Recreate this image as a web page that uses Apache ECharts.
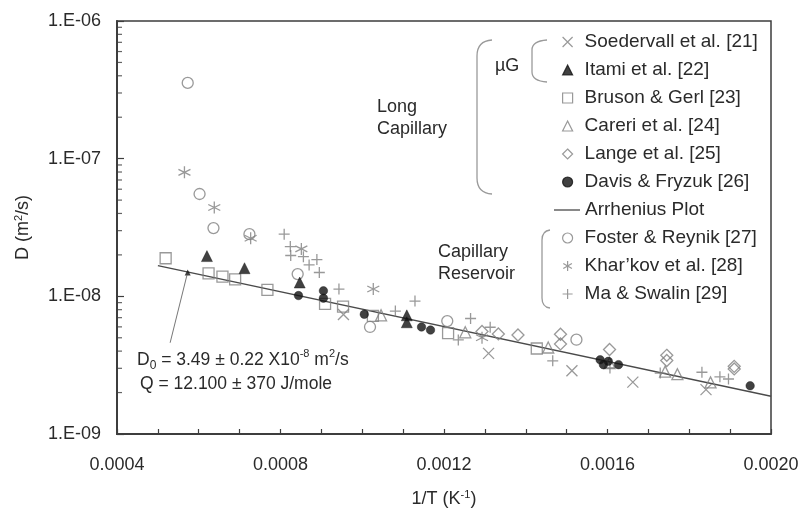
<!DOCTYPE html>
<html>
<head>
<meta charset="utf-8">
<script src="https://cdn.jsdelivr.net/npm/echarts@6/dist/echarts.min.js"></script>
<style>
  html, body { margin: 0; padding: 0; background: #fff; }
  #chart { width: 801px; height: 508px; }
</style>
</head>
<body>
<div id="chart"></div>
<script>
// values: [1/T (K^-1), D (m^2/s)]
const soedervall = [[0.000954, 7.38e-9], [0.001309, 3.85e-9], [0.001513, 2.88e-9], [0.001662, 2.38e-9], [0.001841, 2.10e-9]];
const itami = [[0.000620, 1.96e-8], [0.000712, 1.60e-8], [0.000847, 1.26e-8], [0.001109, 7.28e-9], [0.001109, 6.48e-9]];
const bruson = [[0.000519, 1.89e-8], [0.000624, 1.47e-8], [0.000658, 1.39e-8], [0.000689, 1.33e-8], [0.000768, 1.115e-8],
  [0.000909, 8.82e-9], [0.000953, 8.43e-9], [0.001026, 7.22e-9], [0.001210, 5.41e-9], [0.001427, 4.18e-9]];
const careri = [[0.001046, 7.28e-9], [0.001252, 5.48e-9], [0.001455, 4.25e-9], [0.001605, 3.28e-9], [0.001741, 2.84e-9],
  [0.001771, 2.72e-9], [0.001852, 2.37e-9]];
const lange = [[0.001293, 5.56e-9], [0.001333, 5.33e-9], [0.001381, 5.24e-9], [0.001485, 5.30e-9], [0.001485, 4.51e-9],
  [0.001605, 4.11e-9], [0.001745, 3.73e-9], [0.001745, 3.42e-9], [0.001910, 3.10e-9], [0.001910, 2.97e-9]];
const davis = [[0.000844, 1.013e-8], [0.000905, 1.096e-8], [0.000905, 9.70e-9], [0.001005, 7.40e-9], [0.001145, 5.99e-9],
  [0.001167, 5.69e-9], [0.001582, 3.46e-9], [0.001590, 3.19e-9], [0.001602, 3.37e-9], [0.001627, 3.19e-9], [0.001949, 2.24e-9]];
const foster = [[0.000573, 3.55e-7], [0.000602, 5.54e-8], [0.000636, 3.13e-8], [0.000724, 2.83e-8], [0.000842, 1.45e-8],
  [0.001019, 5.99e-9], [0.001208, 6.61e-9], [0.001524, 4.84e-9]];
const kharkov = [[0.000565, 7.96e-8], [0.000638, 4.42e-8], [0.000727, 2.64e-8], [0.000851, 2.21e-8], [0.001027, 1.13e-8],
  [0.001293, 5.00e-9]];
const maSwalin = [[0.000809, 2.83e-8], [0.000824, 2.30e-8], [0.000825, 1.98e-8], [0.000856, 1.94e-8], [0.000889, 1.85e-8],
  [0.000870, 1.69e-8], [0.000895, 1.49e-8], [0.000943, 1.13e-8], [0.001081, 7.82e-9], [0.001129, 9.23e-9],
  [0.001235, 4.82e-9], [0.001265, 6.90e-9], [0.001313, 5.96e-9], [0.001466, 3.40e-9], [0.001606, 3.02e-9],
  [0.001729, 2.77e-9], [0.001831, 2.81e-9], [0.001875, 2.60e-9], [0.001896, 2.51e-9]];
const arrhenius = [[0.0005, 1.67e-8], [0.002, 1.88e-9]];
const fitMarker = [[0.000573, 1.49e-8]];
const pointer = [[0.000571, 1.42e-8], [0.00053, 4.6e-9]];

// y axis decades and minor tick mantissas
const decades = [1e-9, 1e-8, 1e-7];
const mantissas = [2, 3, 4, 5, 6, 7, 8, 9];
const xLabels = ['0.0004', '0.0008', '0.0012', '0.0016', '0.0020'];

const FONT = 'Liberation Sans, Arial, sans-serif';
const GRAY = '#808080';
const DARK = '#111';
const AXIS = '#3d3d3d';
const INK = '#2a2a2a';
const BRACE = { stroke: '#9a9a9a', lineWidth: 1.3, fill: 'none' };

const SYM_X = 'path://M0,0L10,10M10,0L0,10';
const SYM_PLUS = 'path://M5,0L5,10M0,5L10,5';
const SYM_STAR = 'path://M5,0L5,10M0.7,2.5L9.3,7.5M0.7,7.5L9.3,2.5';

const minorTicks = [];
decades.forEach(d => mantissas.forEach(m => minorTicks.push([0.0004, m * d])));

const chart = echarts.init(document.getElementById('chart'));

function hollow(name, data, symbol, size) {
  return {
    name, type: 'scatter', data, symbol, symbolSize: size, z: 3,
    itemStyle: { color: 'rgba(0,0,0,0)', borderColor: GRAY, borderWidth: 1.3 },
  };
}
function filled(name, data, symbol, size) {
  return {
    name, type: 'scatter', data, symbol, symbolSize: size, z: 4,
    itemStyle: { color: DARK, borderColor: DARK, borderWidth: 0.5 },
  };
}
// a rounded bracket: top hook, straight side, bottom hook
function bracket(xTip, xSide, yTop, yBot, r) {
  return [
    { type: 'bezierCurve', shape: { x1: xTip, y1: yTop, x2: xSide, y2: yTop + r, cpx1: xSide, cpy1: yTop + 1 }, style: BRACE },
    { type: 'line', shape: { x1: xSide, y1: yTop + r, x2: xSide, y2: yBot - r }, style: BRACE },
    { type: 'bezierCurve', shape: { x1: xSide, y1: yBot - r, x2: xTip, y2: yBot, cpx1: xSide, cpy1: yBot - 1 }, style: BRACE },
  ];
}

const groupA = ['Soedervall et al. [21]', 'Itami et al. [22]', 'Bruson & Gerl [23]', 'Careri et al. [24]',
  'Lange et al. [25]', 'Davis & Fryzuk [26]'];
const groupB = [{ name: 'Arrhenius Plot', icon: 'rect' }];
const groupC = ['Foster & Reynik [27]', 'Khar\u2019kov et al. [28]', 'Ma & Swalin [29]'];

const legendText = { fontFamily: FONT, fontSize: 19, lineHeight: 19, color: INK };
function legendBlock(data, top, left, itemWidth, itemHeight, padLeft) {
  return {
    data, orient: 'vertical', left, top, padding: 0,
    itemWidth, itemHeight, itemGap: 9, selectedMode: false,
    itemStyle: { borderWidth: 1.2 },
    textStyle: Object.assign({ padding: [0, 0, 0, padLeft] }, legendText),
  };
}

chart.setOption({
  animation: false,
  backgroundColor: '#fff',
  textStyle: { fontFamily: FONT },
  grid: {
    left: 117, right: 30, top: 21, bottom: 74, outerBoundsMode: 'none',
    show: true, borderColor: AXIS, borderWidth: 1.5,
  },
  legend: [
    legendBlock(groupA, 32.5, 562, 10, 10, 7),
    legendBlock(groupB, 200.5, 554, 26, 1.3, 0),
    legendBlock(groupC, 228.5, 562, 10, 10, 7),
  ],
  xAxis: {
    type: 'value',
    min: 0.0004,
    max: 0.002,
    interval: 0.0004,
    name: '{a|1/T (K}{s|-1}{a|)}',
    nameLocation: 'middle',
    nameGap: 55,
    nameTextStyle: {
      fontFamily: FONT, fontSize: 18, color: INK,
      rich: { s: { fontSize: 11, verticalAlign: 'top', lineHeight: 20 }, a: { fontSize: 18 } },
    },
    axisLine: { lineStyle: { color: AXIS, width: 2 } },
    axisTick: { inside: true, length: 5, lineStyle: { color: AXIS, width: 1.2 } },
    minorTick: { show: true, splitNumber: 4, length: 5, lineStyle: { color: AXIS, width: 1.2 } },
    splitLine: { show: false },
    axisLabel: {
      fontFamily: FONT, fontSize: 18, color: INK, margin: 22,
      formatter: v => xLabels.find(l => Math.abs(parseFloat(l) - v) < 1e-9) || '',
    },
  },
  yAxis: {
    type: 'log',
    logBase: 10,
    min: 1e-9,
    max: 1e-6,
    name: '{a|D (m}{s|2}{a|/s)}',
    nameLocation: 'middle',
    nameGap: 84,
    nameTextStyle: {
      fontFamily: FONT, fontSize: 18, color: INK,
      rich: { s: { fontSize: 11, verticalAlign: 'top', lineHeight: 20 }, a: { fontSize: 18 } },
    },
    axisLine: { show: true, lineStyle: { color: AXIS, width: 2 } },
    axisTick: { inside: true, length: 7, lineStyle: { color: AXIS, width: 1.2 } },
    minorTick: { show: false },
    splitLine: { show: false },
    axisLabel: {
      fontFamily: FONT, fontSize: 18, color: INK, margin: 16,
      formatter: v => '1.E-0' + Math.round(-Math.log10(v)),
    },
  },
  series: [
    hollow('Soedervall et al. [21]', soedervall, SYM_X, 11),
    filled('Itami et al. [22]', itami, 'triangle', 11),
    hollow('Bruson & Gerl [23]', bruson, 'rect', 11),
    hollow('Careri et al. [24]', careri, 'triangle', 11),
    hollow('Lange et al. [25]', lange, 'diamond', 12),
    filled('Davis & Fryzuk [26]', davis, 'circle', 8.5),
    {
      name: 'Arrhenius Plot', type: 'line', data: arrhenius, symbol: 'none', z: 2,
      lineStyle: { color: '#4a4a4a', width: 1.3 }, itemStyle: { color: '#4a4a4a' },
    },
    hollow('Foster & Reynik [27]', foster, 'circle', 11),
    hollow('Khar\u2019kov et al. [28]', kharkov, SYM_STAR, 12),
    hollow('Ma & Swalin [29]', maSwalin, SYM_PLUS, 11),
    {
      name: 'fit-marker', type: 'scatter', data: fitMarker, symbol: 'triangle', symbolSize: 6, z: 5,
      itemStyle: { color: DARK },
    },
    {
      name: 'pointer', type: 'line', data: pointer, symbol: 'none', z: 2,
      lineStyle: { color: '#777', width: 1 },
    },
    {
      name: 'y-minor', type: 'scatter', data: minorTicks, symbol: 'rect', symbolSize: [5, 1.2],
      symbolOffset: [2.5, 0], silent: true, z: 6, itemStyle: { color: AXIS },
    },
  ],
  graphic: [
    ...bracket(492, 477, 40, 194, 16),
    ...bracket(547, 532, 40, 82, 10),
    ...bracket(550, 542, 230, 308, 10),
    { type: 'text', left: 495, top: 57,
      style: { text: '\u00b5G', font: '18px ' + FONT, fill: INK } },
    { type: 'text', left: 377, top: 96,
      style: { text: 'Long\nCapillary', font: '18px ' + FONT, lineHeight: 22, fill: INK } },
    { type: 'text', left: 438, top: 241,
      style: { text: 'Capillary\nReservoir', font: '18px ' + FONT, lineHeight: 22, fill: INK } },
    { type: 'text', left: 137, top: 348,
      style: {
        text: 'D{sub|0} = 3.49 \u00b1 0.22 X10{sup|-8} m{sup|2}/s',
        font: '17.5px ' + FONT, fill: INK, lineHeight: 24,
        rich: {
          sub: { fontSize: 12, verticalAlign: 'bottom', lineHeight: 20, fill: INK },
          sup: { fontSize: 11, verticalAlign: 'top', lineHeight: 24, fill: INK },
        },
      } },
    { type: 'text', left: 140, top: 375,
      style: { text: 'Q = 12.100 \u00b1 370 J/mole', font: '17.5px ' + FONT, fill: INK } },
  ],
});
</script>
</body>
</html>
